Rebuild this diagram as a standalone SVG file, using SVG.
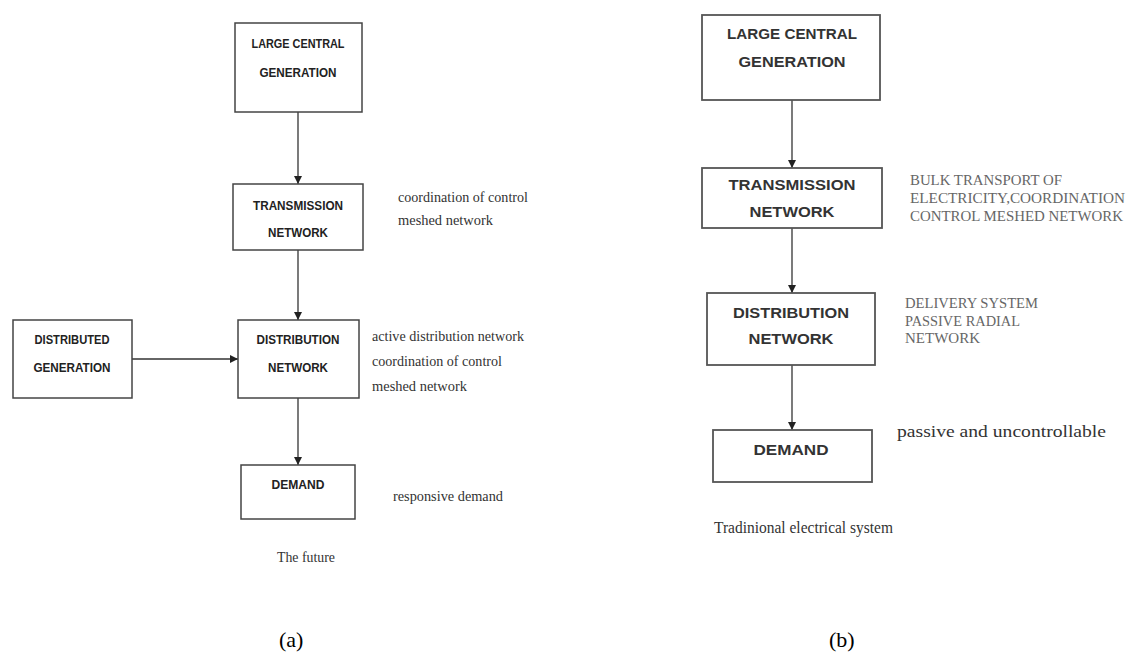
<svg xmlns="http://www.w3.org/2000/svg" width="1130" height="664" viewBox="0 0 1130 664">
<defs>
<marker id="arr" markerUnits="userSpaceOnUse" markerWidth="10" markerHeight="10" refX="8" refY="4" orient="auto">
<path d="M0,0 L8,4 L0,8 Z" fill="#222"/>
</marker>
<style>
.bx{fill:#fff;stroke:#444;stroke-width:1.5}
.bx2{fill:#fff;stroke:#555;stroke-width:1.8}
.lb{font-family:"Liberation Sans",Arial,sans-serif;font-weight:bold;font-size:13px;fill:#222;text-anchor:middle}
.lb2{font-family:"Liberation Sans",Arial,sans-serif;font-weight:bold;font-size:15px;fill:#333;text-anchor:middle}
.an{font-family:"Liberation Serif","Times New Roman",serif;font-size:15px;fill:#333}
.an2{font-family:"Liberation Serif","Times New Roman",serif;font-size:14px;fill:#666}
.an3{font-family:"Liberation Serif","Times New Roman",serif;font-size:17px;fill:#333}
.cap{font-family:"Liberation Serif","Times New Roman",serif;font-size:22px;fill:#000}
.cn{stroke:#333;stroke-width:1.3;fill:none;marker-end:url(#arr)}
</style>
</defs>

<g id="connectors">
<line class="cn" x1="298" y1="112" x2="298" y2="184"/>
<line class="cn" x1="298" y1="250" x2="298" y2="320"/>
<line class="cn" x1="298" y1="398" x2="298" y2="465"/>
<line class="cn" x1="132" y1="359" x2="238" y2="359"/>
<line class="cn" x1="792" y1="100" x2="792" y2="168"/>
<line class="cn" x1="792" y1="228" x2="792" y2="293"/>
<line class="cn" x1="792" y1="365" x2="792" y2="430"/>
</g>

<g id="a-large">
<rect class="bx" x="235" y="23" width="127" height="89"/>
<text class="lb" x="298" y="48" textLength="93" lengthAdjust="spacingAndGlyphs">LARGE CENTRAL</text>
<text class="lb" x="298" y="77" textLength="77" lengthAdjust="spacingAndGlyphs">GENERATION</text>
</g>
<g id="a-trans">
<rect class="bx" x="233" y="184" width="130" height="66"/>
<text class="lb" x="298" y="210" textLength="90" lengthAdjust="spacingAndGlyphs">TRANSMISSION</text>
<text class="lb" x="298" y="237" textLength="60" lengthAdjust="spacingAndGlyphs">NETWORK</text>
</g>
<g id="a-distgen">
<rect class="bx" x="13" y="320" width="119" height="78"/>
<text class="lb" x="72" y="344" textLength="75" lengthAdjust="spacingAndGlyphs">DISTRIBUTED</text>
<text class="lb" x="72" y="372" textLength="77" lengthAdjust="spacingAndGlyphs">GENERATION</text>
</g>
<g id="a-dist">
<rect class="bx" x="238" y="320" width="121" height="78"/>
<text class="lb" x="298" y="344" textLength="83" lengthAdjust="spacingAndGlyphs">DISTRIBUTION</text>
<text class="lb" x="298" y="372" textLength="60" lengthAdjust="spacingAndGlyphs">NETWORK</text>
</g>
<g id="a-demand">
<rect class="bx" x="241" y="465" width="114" height="54"/>
<text class="lb" x="298" y="489" textLength="53" lengthAdjust="spacingAndGlyphs">DEMAND</text>
</g>
<g id="a-notes">
<text class="an" x="398" y="202" textLength="130" lengthAdjust="spacingAndGlyphs">coordination of control</text>
<text class="an" x="398" y="225" textLength="95" lengthAdjust="spacingAndGlyphs">meshed network</text>
<text class="an" x="372" y="341" textLength="152" lengthAdjust="spacingAndGlyphs">active distribution network</text>
<text class="an" x="372" y="366" textLength="130" lengthAdjust="spacingAndGlyphs">coordination of control</text>
<text class="an" x="372" y="391" textLength="95" lengthAdjust="spacingAndGlyphs">meshed network</text>
<text class="an" x="393" y="501" textLength="110" lengthAdjust="spacingAndGlyphs">responsive demand</text>
<text class="an" x="277" y="562" textLength="58" lengthAdjust="spacingAndGlyphs">The future</text>
<text class="cap" x="279" y="647">(a)</text>
</g>

<g id="b-large">
<rect class="bx2" x="702" y="15" width="178" height="85"/>
<text class="lb2" x="792" y="39" textLength="130" lengthAdjust="spacingAndGlyphs">LARGE CENTRAL</text>
<text class="lb2" x="792" y="67" textLength="107" lengthAdjust="spacingAndGlyphs">GENERATION</text>
</g>
<g id="b-trans">
<rect class="bx2" x="702" y="168" width="180" height="60"/>
<text class="lb2" x="792" y="190" textLength="127" lengthAdjust="spacingAndGlyphs">TRANSMISSION</text>
<text class="lb2" x="792" y="217" textLength="85" lengthAdjust="spacingAndGlyphs">NETWORK</text>
</g>
<g id="b-dist">
<rect class="bx2" x="707" y="293" width="168" height="72"/>
<text class="lb2" x="791" y="318" textLength="116" lengthAdjust="spacingAndGlyphs">DISTRIBUTION</text>
<text class="lb2" x="791" y="344" textLength="85" lengthAdjust="spacingAndGlyphs">NETWORK</text>
</g>
<g id="b-demand">
<rect class="bx2" x="713" y="430" width="159" height="52"/>
<text class="lb2" x="791" y="455" textLength="75" lengthAdjust="spacingAndGlyphs">DEMAND</text>
</g>
<g id="b-notes">
<text class="an2" x="910" y="185" textLength="152" lengthAdjust="spacingAndGlyphs">BULK TRANSPORT OF</text>
<text class="an2" x="910" y="203" textLength="215" lengthAdjust="spacingAndGlyphs">ELECTRICITY,COORDINATION</text>
<text class="an2" x="910" y="221" textLength="213" lengthAdjust="spacingAndGlyphs">CONTROL MESHED NETWORK</text>
<text class="an2" x="905" y="308" textLength="133" lengthAdjust="spacingAndGlyphs">DELIVERY SYSTEM</text>
<text class="an2" x="905" y="326" textLength="115" lengthAdjust="spacingAndGlyphs">PASSIVE RADIAL</text>
<text class="an2" x="905" y="343" textLength="75" lengthAdjust="spacingAndGlyphs">NETWORK</text>
<text class="an3" x="897" y="437" textLength="209" lengthAdjust="spacingAndGlyphs">passive and uncontrollable</text>
<text class="an3" x="714" y="533" textLength="179" lengthAdjust="spacingAndGlyphs">Tradinional electrical system</text>
<text class="cap" x="829" y="647">(b)</text>
</g>
</svg>
